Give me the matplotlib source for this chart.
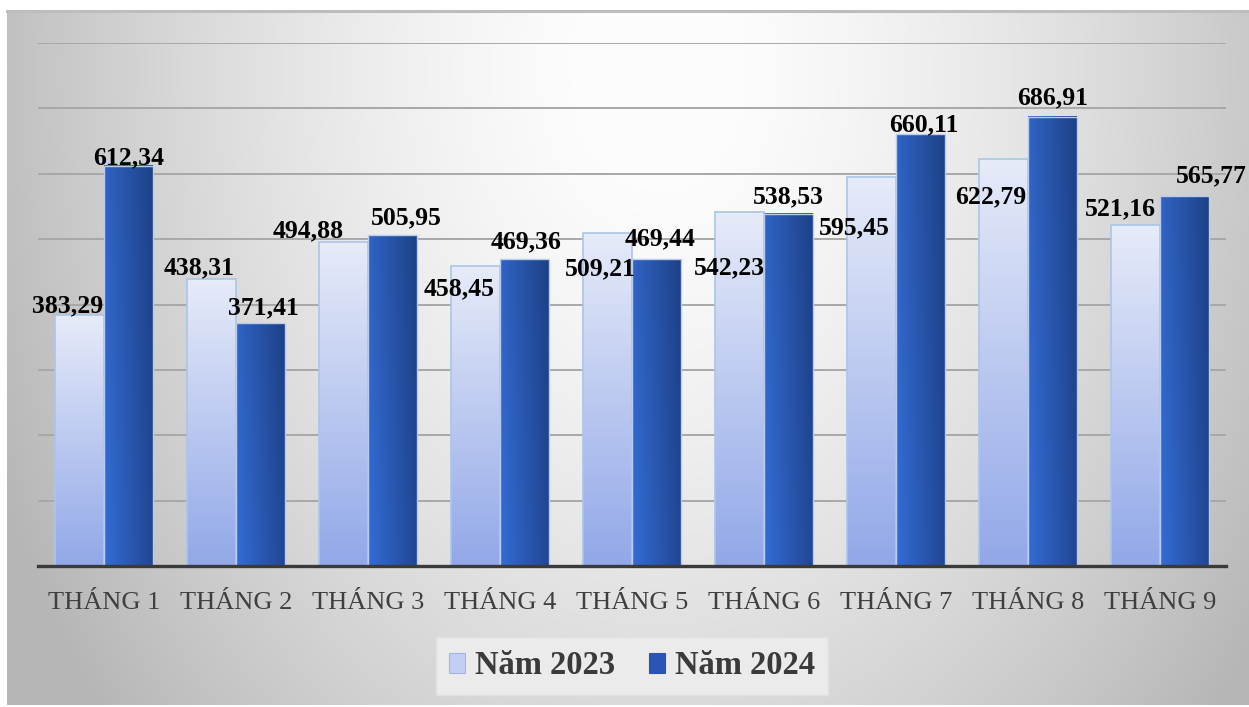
import numpy as np
import matplotlib
matplotlib.use('Agg')
import matplotlib.pyplot as plt
from matplotlib.patches import Patch
from matplotlib.lines import Line2D

# Data
months = ['THÁNG 1', 'THÁNG 2', 'THÁNG 3', 'THÁNG 4', 'THÁNG 5',
          'THÁNG 6', 'THÁNG 7', 'THÁNG 8', 'THÁNG 9']
values_2023 = [383.29, 438.31, 494.88, 458.45, 509.21, 542.23, 595.45, 622.79, 521.16]
values_2024 = [612.34, 371.41, 505.95, 469.36, 469.44, 538.53, 660.11, 686.91, 565.77]
series_names = ['Năm 2023', 'Năm 2024']

# manual label offsets (pixels, from the top centre of each bar)
offsets_2023 = [(-12, 10), (-12, 12), (-35, 12), (-16, -23), (-7, -36),
                (-10, -56), (-17, -51), (-13, -38), (-15, 16)]
offsets_2024 = [(0, 8), (3, 15), (14, 17), (2, 17), (4, 20),
                (0, 17), (3, 10), (0, 19), (27, 20)]

W, H = 1249, 707
fig = plt.figure(figsize=(W / 100, H / 100), dpi=100)
fig.patch.set_facecolor('white')
serif = 'Liberation Serif'

# background: radial grey gradient
bg = fig.add_axes([7 / W, 2 / H, 1 - 7 / W, 695 / H])
yy, xx = np.mgrid[0:695, 0:1242]
d = np.sqrt(((xx - 650) / 650.0) ** 2 + ((yy - 60) / 900.0) ** 2)
val = np.clip(255 - 62 * d ** 1.5, 182, 252) / 255.0
bg.imshow(np.dstack([val, val, val]), aspect='auto', interpolation='bilinear')
bg.set_axis_off()
fig.add_artist(Line2D([7 / W, 1], [1 - 11 / H, 1 - 11 / H], color='#bdbdbd', lw=2.2))

# main axes
ax = fig.add_axes([38 / W, 1 - 566 / H, (1226 - 38) / W, (566 - 43) / H])
ax.patch.set_alpha(0)
ymax = 800
x = np.arange(len(months))
bw = 0.371

ax.set_axisbelow(True)
ax.yaxis.grid(True, color='#a8a8a8', lw=1.4)
ax.set_yticks(np.arange(0, ymax + 1, 100))
ax.tick_params(axis='y', left=False, labelleft=False)
ax.tick_params(axis='x', length=0, pad=19)
ax.set_xticks(x)
ax.set_xticklabels(months, fontsize=19, family=serif, color='#3f3f3f')
for s in ['top', 'right', 'left']:
    ax.spines[s].set_visible(False)
ax.spines['bottom'].set_color('#3a3a3a')
ax.spines['bottom'].set_linewidth(2.4)
ax.spines['bottom'].set_zorder(5)

# gradients
n = 64
t = np.linspace(0, 1, n)
light_top = np.array([230, 235, 249]) / 255
light_bot = np.array([146, 168, 232]) / 255
light_grad = (light_top[None, None, :] * (1 - t)[:, None, None]
              + light_bot[None, None, :] * t[:, None, None]) * np.ones((1, 8, 1))
dark_left = np.array([50, 104, 205]) / 255
dark_right = np.array([31, 68, 142]) / 255
dark_grad = (dark_left[None, None, :] * (1 - t)[None, :, None]
             + dark_right[None, None, :] * t[None, :, None]) * np.ones((8, 1, 1))
dark_grad = dark_grad * np.linspace(0.96, 1.04, 8)[:, None, None]
dark_grad = np.clip(dark_grad, 0, 1)

bars23 = ax.bar(x - bw / 2, values_2023, bw, facecolor='none',
                edgecolor='#a9c6e6', lw=1.2, zorder=3)
bars24 = ax.bar(x + bw / 2, values_2024, bw, facecolor='none',
                edgecolor='#b8cdee', lw=1.0, zorder=3)
for bars, grad in [(bars23, light_grad), (bars24, dark_grad)]:
    for b in bars:
        x0, w, h = b.get_x(), b.get_width(), b.get_height()
        ax.imshow(grad, extent=(x0, x0 + w, 0, h), aspect='auto',
                  interpolation='bilinear', zorder=2)

ax.set_xlim(-0.5, len(months) - 0.5)
ax.set_ylim(0, ymax)

# data labels
px2pt = 72 / 100
for bars, vals, offs in [(bars23, values_2023, offsets_2023),
                         (bars24, values_2024, offsets_2024)]:
    for b, v, (dx, dy) in zip(bars, vals, offs):
        ax.annotate(f'{v:.2f}'.replace('.', ','),
                    (b.get_x() + b.get_width() / 2, v),
                    xytext=(dx * px2pt, dy * px2pt), textcoords='offset points',
                    ha='center', va='center', fontsize=18.5, fontweight='bold',
                    family=serif, color='black', zorder=6, annotation_clip=False)

# legend
handles = [Patch(facecolor='#c3cff2', edgecolor='#9fb6e6', lw=0.8),
           Patch(facecolor='#2a55b5', edgecolor='#2a55b5', lw=0.8)]
leg = fig.legend(handles, series_names, loc='center',
                 bbox_to_anchor=(632 / W, 1 - 666 / H), ncol=2,
                 prop={'family': serif, 'size': 23.5, 'weight': 'bold'},
                 handlelength=0.5, handleheight=0.55, handletextpad=0.3,
                 columnspacing=1.05, borderpad=0.4, fancybox=False,
                 framealpha=1)
leg.get_frame().set_facecolor('#ebebeb')
leg.get_frame().set_edgecolor('#e0e0e0')
for txt in leg.get_texts():
    txt.set_color('#3a3a3a')

fig.savefig('out.png', dpi=100)
